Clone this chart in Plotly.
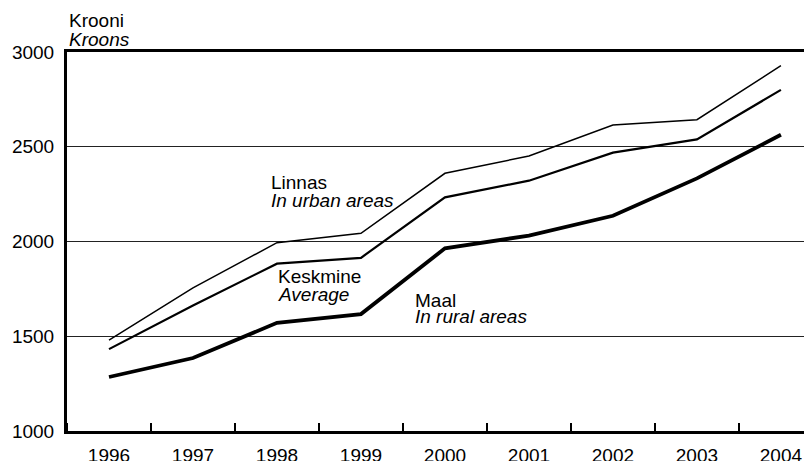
import plotly.graph_objects as go

years = [1996, 1997, 1998, 1999, 2000, 2001, 2002, 2003, 2004]
linnas = [1480, 1755, 1994, 2043, 2360, 2451, 2615, 2643, 2928]
keskmine = [1432, 1662, 1883, 1914, 2233, 2321, 2469, 2539, 2800]
maal = [1285, 1385, 1571, 1617, 1964, 2031, 2136, 2333, 2563]

FONT = "Liberation Sans, Arial, sans-serif"

fig = go.Figure()
fig.add_trace(go.Scatter(x=years, y=linnas, mode="lines", line=dict(color="black", width=1.5)))
fig.add_trace(go.Scatter(x=years, y=keskmine, mode="lines", line=dict(color="black", width=2.2)))
fig.add_trace(go.Scatter(x=years, y=maal, mode="lines", line=dict(color="black", width=3.8)))

# unit label above the plot (paper coords)
fig.add_annotation(x=0, y=1.082, text="Krooni", xref="paper", yref="paper",
                   showarrow=False, xanchor="left", yanchor="middle")
fig.add_annotation(x=0, y=1.034, text="<i>Kroons</i>", xref="paper", yref="paper",
                   showarrow=False, xanchor="left", yanchor="middle")

# series labels (left edge, vertical centre)
labels = [
    ("Linnas", 1997.905, 2314),
    ("<i>In urban areas</i>", 1997.905, 2214),
    ("Keskmine", 1997.99, 1813),
    ("<i>Average</i>", 1997.99, 1718),
    ("Maal", 1999.62, 1691),
    ("<i>In rural areas</i>", 1999.62, 1602),
]
for txt, ax, ay in labels:
    fig.add_annotation(
        x=ax, y=ay, text=txt, showarrow=False,
        xanchor="left", yanchor="middle", xref="x", yref="y",
    )

# page body has an 8px margin, so the figure is a bit smaller and offset
fig.update_layout(
    width=804,
    height=453,
    margin=dict(l=59, r=0, t=44, b=30),
    plot_bgcolor="white",
    paper_bgcolor="white",
    showlegend=False,
    font=dict(family=FONT, size=19, color="black"),
)

fig.update_xaxes(
    range=[1995.5, 2004.37],
    tickvals=years,
    ticktext=[str(y) for y in years],
    ticks="",
    ticklabelstandoff=5,
    automargin=False,
    showgrid=False,
    zeroline=False,
    showline=True,
    linecolor="black",
    linewidth=3,
    mirror=True,
    minor=dict(tick0=1995.5, dtick=1, ticks="inside", ticklen=8, tickwidth=1.5, tickcolor="black"),
)
fig.update_yaxes(
    range=[1000, 3000],
    tickvals=[1000, 1500, 2000, 2500, 3000],
    ticks="",
    ticklabelstandoff=6,
    automargin=False,
    showgrid=True,
    gridcolor="#222",
    gridwidth=1,
    zeroline=False,
    showline=True,
    linecolor="black",
    linewidth=3,
)

fig.write_html("out.html")
